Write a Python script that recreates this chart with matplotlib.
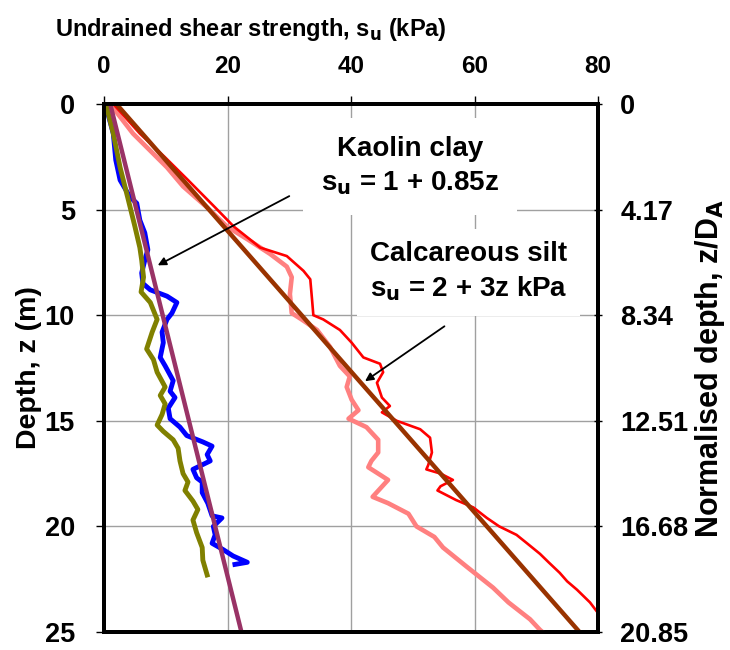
import matplotlib
matplotlib.use('Agg')
import matplotlib.pyplot as plt

plt.rcParams['font.family'] = ['Liberation Sans', 'DejaVu Sans']
plt.rcParams['font.weight'] = 'bold'

# kaolin clay profiles (depth z in m, su in kPa)
kao1_z = [0, 1.4, 2.65, 3.6, 4.4, 4.7, 5.5, 6.1, 6.9, 7.4, 8.0, 8.5, 8.8, 9.1, 9.4, 9.9,
          10.2, 10.8, 11.3, 12.0, 12.4, 13.1, 13.6, 13.9, 14.4, 14.9, 15.3, 15.7, 16.0,
          16.2, 16.6, 16.9, 17.3, 17.7, 17.9, 18.4, 18.9, 19.5, 19.6, 20.0, 20.4, 20.8,
          21.1, 21.4, 21.7, 21.8]
kao1_su = [0.2, 1.5, 1.9, 2.6, 4.2, 5.3, 5.8, 6.6, 7.1, 6.6, 6.1, 6.3, 7.5, 10.2, 11.8, 11.0,
           10.2, 9.4, 9.6, 9.1, 9.9, 11.2, 10.7, 11.5, 10.4, 10.7, 12.3, 13.4, 16.0,
           17.5, 16.7, 17.2, 14.4, 15.0, 15.9, 15.9, 16.8, 17.5, 19.1, 17.7, 18.0, 17.5,
           19.3, 20.9, 23.2, 21.2]

kao2_z = [0, 1.4, 3.0, 4.5, 5.8, 6.8, 7.4, 8.2, 8.9, 9.4, 10.2, 10.8, 11.6, 12.1, 12.7,
          13.4, 13.8, 14.2, 14.7, 15.2, 15.5, 15.9, 16.3, 16.9, 17.5, 17.9, 18.3, 18.8,
          19.2, 19.7, 20.3, 21.0, 21.6, 22.3]
kao2_su = [0.3, 1.5, 2.6, 3.9, 5.0, 5.8, 6.1, 6.4, 6.0, 7.5, 8.6, 7.8, 6.9, 8.0, 8.6,
           9.9, 9.1, 9.9, 9.4, 8.6, 9.6, 11.2, 12.0, 12.3, 12.8, 13.6, 13.1, 14.4,
           15.2, 14.4, 15.0, 15.9, 16.0, 16.7]

# calcareous silt profiles
cal1_z = [0, 1.4, 2.5, 3.6, 4.9, 5.8, 6.8, 7.2, 7.9, 8.3, 9.3, 10.0, 10.2, 10.7, 11.3,
          12.0, 12.3, 12.7, 13.2, 13.9, 14.3, 14.6, 15.0, 15.4, 15.8, 16.5, 17.1, 17.3,
          17.5, 17.8, 18.1, 18.3, 18.75, 19.1, 19.6, 20.0, 20.4, 20.8, 21.3, 21.7, 22.2,
          22.6, 23.0, 23.6, 24.1, 24.3]
cal1_su = [1.5, 5.8, 9.8, 13.6, 18.0, 21.0, 25.3, 29.6, 32.3, 33.4, 33.7, 33.9, 35.5, 38.2,
           40.1, 42.0, 44.7, 45.2, 44.2, 45.0, 46.3, 45.0, 47.4, 51.2, 52.8, 53.1, 52.5,
           52.2, 54.5, 56.5, 54.5, 54.0, 57.0, 59.8, 62.0, 64.0, 66.8, 68.5, 70.6, 72.0,
           73.8, 75.0, 76.6, 78.7, 80.0, 80.5]

cal2_z = [0, 1.4, 3.0, 3.9, 4.9, 5.8, 6.4, 7.1, 7.7, 8.2, 9.0, 9.9, 10.2, 10.7, 11.5, 12.4,
          12.9, 13.4, 14.0, 14.5, 14.9, 15.3, 15.9, 16.5, 16.9, 17.2, 17.8, 18.6, 18.9,
          19.4, 20.0, 20.5, 21.0, 21.9, 22.9, 23.6, 24.4, 24.9, 25.0]
cal2_su = [1.0, 4.7, 10.2, 12.8, 16.7, 19.9, 23.2, 26.9, 29.6, 30.4, 30.1, 30.4, 32.0, 34.5,
           36.6, 38.2, 39.8, 39.3, 40.1, 41.2, 39.6, 42.5, 44.4, 44.4, 43.3, 42.8, 46.0,
           43.5, 46.0, 49.3, 50.6, 53.5, 54.9, 58.7, 63.0, 65.5, 69.0, 70.6, 71.0]

# fitted lines: su = 1 + 0.85z and su = 2 + 3z
fit_z = [0, 25]
kao_fit_su = [1, 22.25]
cal_fit_su = [2, 77]

z_ticks = [0, 5, 10, 15, 20, 25]
su_ticks = [0, 20, 40, 60, 80]
norm_labels = ['0', '4.17', '8.34', '12.51', '16.68', '20.85']

fig = plt.figure(figsize=(7.3, 6.5), dpi=100)
ax = fig.add_axes([0.1425, 0.0277, 0.6767, 0.8123])

ax.plot(kao1_su, kao1_z, color='#0000ff', lw=3.5, zorder=3)
ax.plot(kao2_su, kao2_z, color='#808000', lw=3.5, zorder=3)
ax.plot(cal2_su, cal2_z, color='#ff8080', lw=3.3, zorder=3)
ax.plot(cal1_su, cal1_z, color='#ff0000', lw=1.9, zorder=3)
ax.plot(kao_fit_su, fit_z, color='#993366', lw=3.2, zorder=4)
ax.plot(cal_fit_su, fit_z, color='#993300', lw=3.2, zorder=4)

ax.set_xlim(0, 80)
ax.set_ylim(25, 0)
ax.set_xticks(su_ticks)
ax.set_yticks(z_ticks)
ax.xaxis.tick_top()
ax.xaxis.set_label_position('top')
ax.grid(True, color='#a0a0a0', lw=1.0, zorder=0)
ax.set_axisbelow(True)
for s in ax.spines.values():
    s.set_linewidth(2.8)
ax.tick_params(axis='x', labelsize=17.5, length=6, width=1, pad=12.5)
ax.tick_params(axis='y', labelsize=19.5, length=6, width=1, pad=15)
ax.set_xlabel('Undrained shear strength, s$_\\mathbf{u}$ (kPa)', fontsize=17,
              fontweight='bold', labelpad=14)
ax.xaxis.label.set_x(0.298)
ax.set_ylabel('Depth, z (m)', fontsize=20.5, fontweight='bold', labelpad=2)

ax2 = ax.twinx()
ax2.set_ylim(25, 0)
ax2.set_yticks(z_ticks)
ax2.set_yticklabels(norm_labels)
ax2.tick_params(axis='y', labelsize=19.5, length=6, width=1, direction='inout', pad=13)
ax2.set_ylabel('Normalised depth, z/D$_\\mathbf{A}$', fontsize=22, fontweight='bold',
               labelpad=3)
for s in ax2.spines.values():
    s.set_linewidth(2.8)

ax.text(49.6, 2.95, 'Kaolin clay\ns$_\\mathbf{u}$ = 1 + 0.85z', ha='center', va='center',
        fontsize=20, fontweight='bold', linespacing=1.35,
        bbox=dict(facecolor='white', edgecolor='none', pad=13), zorder=2)
ax.text(59, 7.95, 'Calcareous silt\ns$_\\mathbf{u}$ = 2 + 3z kPa', ha='center', va='center',
        fontsize=20, fontweight='bold', linespacing=1.35,
        bbox=dict(facecolor='white', edgecolor='none', pad=9), zorder=2)

ax.annotate('', xy=(8.3, 7.7), xytext=(30.4, 4.3),
            arrowprops=dict(arrowstyle='-|>', color='black', lw=1.3,
                            mutation_scale=12), zorder=5)
ax.annotate('', xy=(41.9, 13.2), xytext=(55.5, 10.45),
            arrowprops=dict(arrowstyle='-|>', color='black', lw=1.3,
                            mutation_scale=12), zorder=5)

fig.savefig('out.png', dpi=100)
